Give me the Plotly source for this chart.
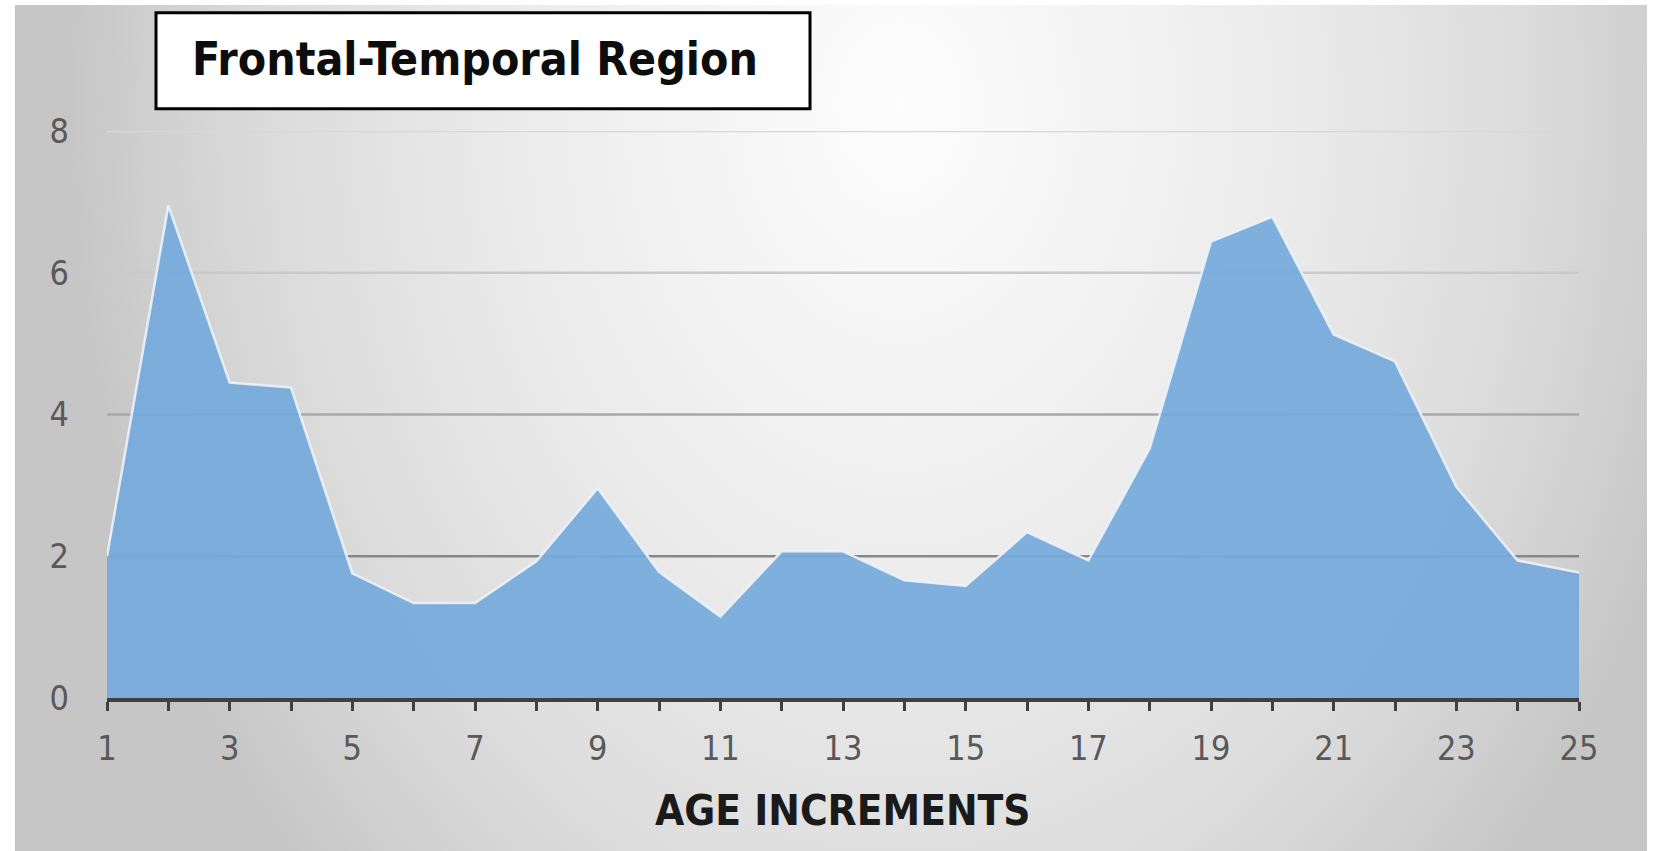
import base64
import plotly.graph_objects as go

# ---- data ----
age = list(range(1, 26))
values = [2.0, 6.95, 4.45, 4.38, 1.76, 1.34, 1.34, 1.93, 2.96, 1.78,
          1.15, 2.07, 2.07, 1.66, 1.58, 2.34, 1.94, 3.52, 6.44, 6.79,
          5.13, 4.75, 2.98, 1.94, 1.77]
x_tick_vals = list(range(1, 26, 2))
y_tick_vals = [0, 2, 4, 6, 8]
grid_vals = [2, 4, 6, 8]
grid_colors = ["#878787", "#a8a8a8", "#cacaca", "#d8d8d8"]
chart_title = "Frontal-Temporal Region"
x_title = "AGE INCREMENTS"

W, H = 1655, 851
ML, MR, MT, MB = 107, 76, 131, 153
PW, PH = W - ML - MR, H - MT - MB


def px_x(p):
    return (p - ML) / PW


def px_y(p):
    return (H - MB - p) / PH


svg = (
    '<svg xmlns="http://www.w3.org/2000/svg" width="1632" height="846" '
    'viewBox="0 0 1632 846" preserveAspectRatio="none">'
    '<defs><radialGradient id="g" gradientUnits="userSpaceOnUse" cx="0" cy="0" r="1" '
    'gradientTransform="translate(885,100) scale(830,1100)">'
    '<stop offset="0" stop-color="#fdfdfd"/>'
    '<stop offset="0.45" stop-color="#ececec"/>'
    '<stop offset="0.75" stop-color="#dcdcdc"/>'
    '<stop offset="0.92" stop-color="#cecece"/>'
    '<stop offset="1" stop-color="#c6c6c6"/>'
    '</radialGradient></defs>'
    '<rect width="1632" height="846" fill="url(#g)"/></svg>'
)
bg_uri = "data:image/svg+xml;base64," + base64.b64encode(svg.encode()).decode()

NARROW = "Liberation Sans Narrow, DejaVu Sans Condensed, Arial Narrow, sans-serif"

fig = go.Figure()
fig.add_trace(go.Scatter(
    x=age, y=values, mode="lines", fill="tozeroy",
    fillcolor="rgba(117,170,219,0.92)",
    line=dict(color="rgba(235,243,252,0.9)", width=2.5),
    hoverinfo="x+y", showlegend=False,
))

shapes = []
for v, c in zip(grid_vals, grid_colors):
    shapes.append(dict(type="line", xref="paper", yref="y", x0=0, x1=1, y0=v, y1=v,
                       line=dict(color=c, width=2.5), layer="below"))
shapes.append(dict(type="rect", xref="paper", yref="paper",
                   x0=px_x(156), x1=px_x(810), y0=px_y(108.7), y1=px_y(12.7),
                   line=dict(color="black", width=3), fillcolor="white", layer="above"))

fig.update_layout(
    width=W, height=H,
    margin=dict(l=ML, r=MR, t=MT, b=MB, autoexpand=False),
    paper_bgcolor="white",
    plot_bgcolor="rgba(0,0,0,0)",
    shapes=shapes,
    images=[dict(source=bg_uri, xref="paper", yref="paper",
                 x=px_x(15), y=px_y(5), sizex=1632 / PW, sizey=846 / PH,
                 xanchor="left", yanchor="top", sizing="stretch", layer="below")],
    annotations=[
        dict(text="<b>" + chart_title + "</b>", xref="paper", yref="paper",
             x=px_x(190), y=px_y(59), xanchor="left", yanchor="middle",
             showarrow=False, font=dict(family=NARROW, size=46, color="#0d0d0d")),
        dict(text="<b>" + x_title + "</b>", xref="paper", yref="paper",
             x=0.5, y=px_y(810), xanchor="center", yanchor="middle",
             showarrow=False, font=dict(family=NARROW, size=42, color="#1a1a1a")),
    ],
    xaxis=dict(
        range=[1, 25], tickmode="array", tickvals=x_tick_vals,
        ticks="outside", ticklen=9, tickwidth=3, tickcolor="#404040",
        minor=dict(tickmode="array", tickvals=age, ticks="outside", ticklen=9,
                   tickwidth=3, tickcolor="#404040"),
        showline=True, linecolor="#404040", linewidth=4,
        showgrid=False, zeroline=False,
        tickfont=dict(family=NARROW, size=34, color="#595959"),
        ticklabelstandoff=8,
    ),
    yaxis=dict(
        range=[0, 8], tickmode="array", tickvals=y_tick_vals,
        ticks="", showgrid=False, zeroline=False, showline=False,
        tickfont=dict(family=NARROW, size=34, color="#595959"),
        ticklabelstandoff=37,
    ),
)

fig.write_html("out.html", config={"displayModeBar": False},
               post_script="document.body.style.margin='0px';")
